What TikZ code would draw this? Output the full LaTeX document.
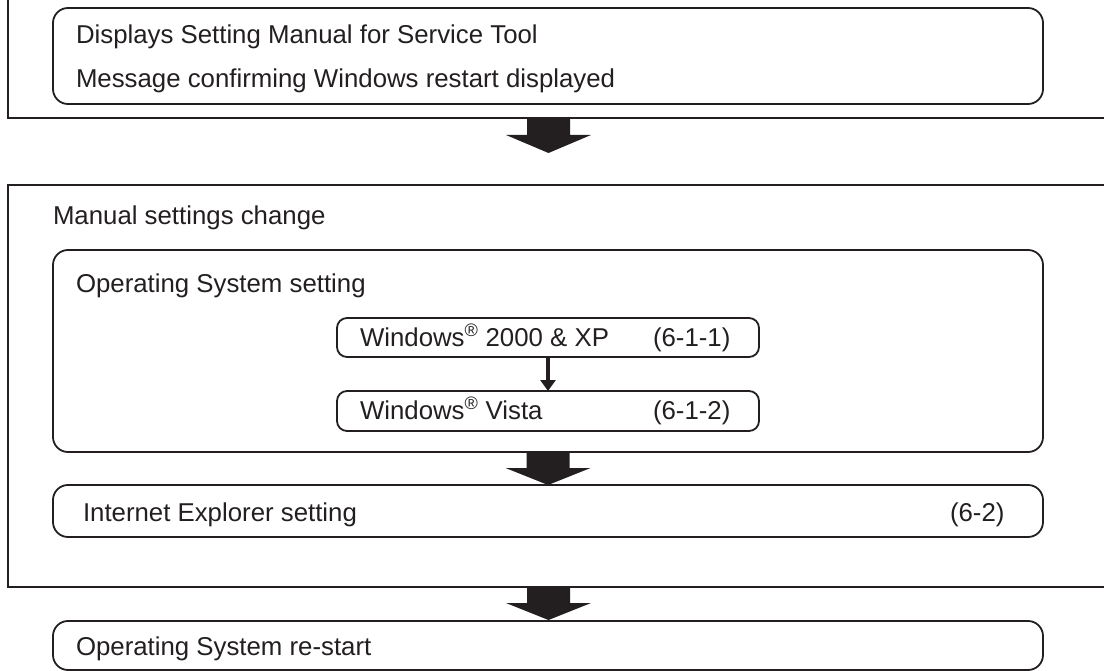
\documentclass[tikz,border=0pt]{standalone}
\usepackage{fontspec}
\setmainfont{Liberation Sans}
\usetikzlibrary{arrows.meta}
\definecolor{ink}{HTML}{231F20}
\begin{document}
\begin{tikzpicture}[x=1pt,y=-1pt,
  ln/.style={draw=ink, line width=1.8pt},
  rbox/.style={draw=ink, line width=1.8pt, rounded corners=15pt, anchor=north west, inner sep=0pt, outer sep=0pt},
  sbox/.style={draw=ink, line width=1.8pt, rounded corners=10pt, anchor=north west, inner sep=0pt, outer sep=0pt},
  lbl/.style={anchor=base west, inner sep=0pt, outer sep=0pt, text=ink, font=\fontsize{25.8}{30}\selectfont},
  blk/.style={fill=ink}]
\useasboundingbox (0,0) rectangle (1104,671);
\clip (0,0) rectangle (1104,671);
% frames
\draw[ln] (8,-2) -- (8,118) -- (1106,118);
\draw[ln] (1106,185) -- (8,185) -- (8,587) -- (1106,587);
% boxes
\node[rbox, minimum width=990pt, minimum height=96pt] (b1) at (53,8) {};
\node[rbox, minimum width=990pt, minimum height=202pt] (os) at (53,250) {};
\node[sbox, minimum width=422pt, minimum height=39pt] (w1) at (337,318) {};
\node[sbox, minimum width=422pt, minimum height=40pt] (w2) at (337,391) {};
\node[rbox, minimum width=990pt, minimum height=52pt] (ie) at (53,485) {};
\node[rbox, minimum width=990pt, minimum height=49pt] (rs) at (53,621) {};
% texts
\node[lbl] (t1) at (76,44) {Displays Setting Manual for Service Tool};
\node[lbl] (t2) at (76,88) {Message confirming Windows restart displayed};
\node[lbl] (t3) at (53,225) {Manual settings change};
\node[lbl] (t4) at (76,293) {Operating System setting};
\node[lbl] (t5) at (360,346) {Windows\textsuperscript{®} 2000 \& XP};
\node[lbl] (t6) at (653,346) {(6-1-1)};
\node[lbl] (t7) at (360,419) {Windows\textsuperscript{®} Vista};
\node[lbl] (t8) at (653,419) {(6-1-2)};
\node[lbl] (t9) at (83,521) {Internet Explorer setting};
\node[lbl] (t10) at (950,521) {(6-2)};
\node[lbl] (t11) at (76,655) {Operating System re-start};
% block arrows
\coordinate (a1) at (548.5,118);
\coordinate (a3) at (548.5,587);
\fill[blk] (a1) ++(-21.5,0) -- ++(43,0) -- ++(0,17) -- ++(21,0) -- ++(-42.5,18) -- ++(-42.5,-18) -- ++(21,0) -- cycle;
\fill[blk] (os.south) ++(-21.5,0) -- ++(43,0) -- ++(0,16) -- ++(21,0) -- ++(-42.5,17) -- ++(-42.5,-17) -- ++(21,0) -- cycle;
\fill[blk] (a3) ++(-21.5,0) -- ++(43,0) -- ++(0,16) -- ++(21,0) -- ++(-42.5,17) -- ++(-42.5,-17) -- ++(21,0) -- cycle;
% small arrow
\draw[draw=ink, line width=3.4pt, -{Triangle[length=11pt,width=15pt]}] (w1.south) -- (w2.north);
\end{tikzpicture}
\end{document}
